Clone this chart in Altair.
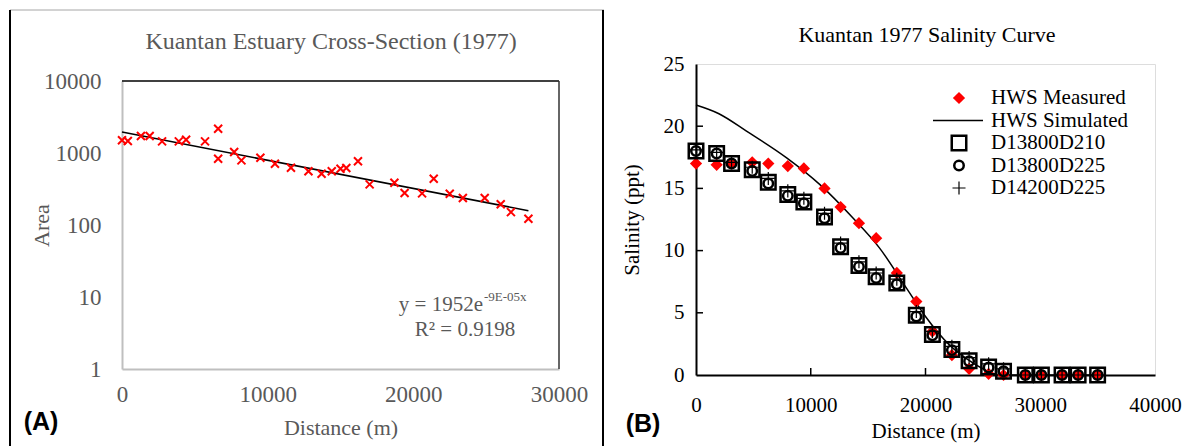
import altair as alt
import pandas as pd

# ---------------- Panel A data ----------------
area_dist = [0, 400, 1300, 1900, 2750, 3900, 4400, 5700, 6600, 6600, 7700, 8200,
             9500, 10500, 11600, 12800, 13700, 14400, 15000, 15400, 16200, 17000,
             18700, 19400, 20600, 21400, 22500, 23400, 24900, 26000, 26700, 27900]
area_vals = [1500, 1470, 1720, 1720, 1450, 1450, 1530, 1450, 2170, 830, 1030, 790,
             860, 710, 625, 557, 516, 557, 605, 619, 767, 367,
             387, 278, 275, 440, 272, 237, 237, 194, 151, 122]
trend_dist = [0, 27900]
trend_vals = [1952, 158]
a_xticks = [0, 10000, 20000, 30000]
a_yticks = [1, 10, 100, 1000, 10000]

# ---------------- Panel B data ----------------
sal_dist = [0, 1800, 3100, 4900, 6300, 8000, 9400, 11200, 12600, 14200, 15700, 17500,
            19200, 20600, 22300, 23800, 25500, 26800, 28700, 30100, 31900, 33300, 35000]
hws_measured = [17.0, 16.9, 17.0, 17.1, 17.0, 16.8, 16.6, 15.0, 13.5, 12.2, 11.0, 8.2,
                5.9, 3.5, 1.6, 0.5, 0.1, 0.0, 0.0, 0.0, 0.0, 0.0, 0.0]
d13800d210 = [18.0, 17.8, 17.0, 16.5, 15.5, 14.5, 13.9, 12.7, 10.3, 8.8, 7.9, 7.4,
              4.8, 3.25, 2.05, 1.15, 0.65, 0.3, 0.0, 0.0, 0.0, 0.0, 0.0]
d13800d225 = [18.0, 17.8, 17.0, 16.4, 15.4, 14.4, 13.8, 12.6, 10.2, 8.7, 7.8, 7.3,
              4.7, 3.2, 2.0, 1.1, 0.6, 0.3, 0.0, 0.0, 0.0, 0.0, 0.0]
d14200d225 = [18.1, 17.9, 17.1, 16.7, 15.8, 14.8, 14.2, 13.0, 10.6, 9.1, 8.2, 7.7,
              5.1, 3.5, 2.3, 1.4, 0.9, 0.5, 0.0, 0.0, 0.0, 0.0, 0.0]
sim_dist = [0, 2000, 4400, 7900, 10800, 13700, 16000, 18400, 20000, 22100, 23600,
            25000, 26300, 35000]
sim_vals = [21.7, 21.0, 19.6, 17.45, 15.3, 12.6, 10.2, 6.9, 4.7, 2.4, 1.3, 0.5, 0.0, 0.0]
b_xticks = [0, 10000, 20000, 30000, 40000]
b_yticks = [0, 5, 10, 15, 20, 25]

series_names = ["HWS Measured", "D13800D210", "D13800D225", "D14200D225"]
legend_labels = ["HWS Measured", "HWS Simulated", "D13800D210", "D13800D225", "D14200D225"]

SERIF = "Liberation Serif"
SANS = "Liberation Sans"
GRAY = "#595959"

# ============ Panel A ============
# group spans page y 62..367; the plot frame itself spans y 17..305 inside it
WA, HA, TOPA = 437, 305, 17
dfA = pd.DataFrame({"dist": area_dist, "area": area_vals})
dfT = pd.DataFrame({"dist": trend_dist, "area": trend_vals})

xA = alt.X("dist:Q", scale=alt.Scale(domain=[0, 30000], nice=False),
           axis=alt.Axis(values=a_xticks, format="d", title="Distance (m)", grid=False,
                         ticks=False, tickSize=0, domainColor="#bfbfbf", domainWidth=2,
                         labelFont=SERIF, labelFontSize=23, labelColor=GRAY, labelPadding=14,
                         titleFont=SERIF, titleFontSize=22, titleColor=GRAY, titleFontWeight="normal",
                         titleY=58, titleBaseline="middle", labelFlush=False))
yA = alt.Y("area:Q", scale=alt.Scale(type="log", domain=[1, 10000], nice=False, range=[HA, TOPA]),
           axis=alt.Axis(values=a_yticks, format="d", title="Area", grid=False,
                         ticks=False, tickSize=0, domainColor="#bfbfbf", domainWidth=2,
                         labelFont=SERIF, labelFontSize=23, labelColor=GRAY, labelPadding=21,
                         titleFont=SERIF, titleFontSize=22, titleColor=GRAY, titleFontWeight="normal",
                         titleX=-81, titleBaseline="middle", labelFlush=False))

x_shape = "M-1,-1L1,1M1,-1L-1,1"
ptsA = alt.Chart(dfA).mark_point(shape=x_shape, stroke="#ff0000", strokeWidth=2,
                                 size=64, filled=False, opacity=1).encode(x=xA, y=yA)
trendA = alt.Chart(dfT).mark_line(color="black", strokeWidth=1.5).encode(x=xA, y=yA)

one = pd.DataFrame({"k": [0]})
frameTop = alt.Chart(one).mark_rule(color="black", strokeWidth=1.5).encode(
    x=alt.value(0), x2=alt.value(WA), y=alt.value(TOPA))
frameRight = alt.Chart(one).mark_rule(color="#333333", strokeWidth=1.5).encode(
    x=alt.value(WA), y=alt.value(TOPA), y2=alt.value(HA))
borderTop = alt.Chart(one).mark_rule(color="#a6a6a6", strokeWidth=1).encode(
    x=alt.value(-112), x2=alt.value(482), y=alt.value(-54))
borderLeft = alt.Chart(one).mark_rule(color="black", strokeWidth=2).encode(
    x=alt.value(-112), y=alt.value(-54), y2=alt.value(384))
titleA = alt.Chart(one).mark_text(font=SERIF, fontSize=24, color=GRAY, baseline="middle",
                                  align="center").encode(
    x=alt.value(209), y=alt.value(-22), text=alt.value("Kuantan Estuary Cross-Section (1977)"))
labA = alt.Chart(one).mark_text(font=SANS, fontSize=25, fontWeight="bold", color="black",
                                baseline="middle", align="center").encode(
    x=alt.value(-81), y=alt.value(358), text=alt.value("(A)"))
eq1 = alt.Chart(one).mark_text(font=SERIF, fontSize=21, color=GRAY, baseline="middle",
                               align="right").encode(
    x=alt.value(361), y=alt.value(241), text=alt.value("y = 1952e"))
eq1s = alt.Chart(one).mark_text(font=SERIF, fontSize=13, color=GRAY, baseline="middle",
                                align="left").encode(
    x=alt.value(362), y=alt.value(233), text=alt.value("-9E-05x"))
eq2 = alt.Chart(one).mark_text(font=SERIF, fontSize=21, color=GRAY, baseline="middle",
                               align="center").encode(
    x=alt.value(343), y=alt.value(266), text=alt.value("R² = 0.9198"))

panelA = alt.layer(trendA, ptsA, frameTop, frameRight, borderTop, borderLeft,
                   titleA, labA, eq1, eq1s, eq2).properties(
    width=WA, height=HA, view=alt.ViewBackground(stroke="transparent"))

# ============ Panel B ============
WB, HB = 459, 311
rows = []
for name, vals in zip(series_names, [hws_measured, d13800d210, d13800d225, d14200d225]):
    for d, v in zip(sal_dist, vals):
        rows.append({"dist": d, "sal": v, "series": name})
dfB = pd.DataFrame(rows)
dfS = pd.DataFrame({"dist": sim_dist, "sal": sim_vals})

xB = alt.X("dist:Q", scale=alt.Scale(domain=[0, 40000], nice=False),
           axis=alt.Axis(values=b_xticks, format="d", title="Distance (m)", grid=False,
                         ticks=False, tickSize=0, domainColor="black", domainWidth=2,
                         labelFont=SERIF, labelFontSize=21, labelColor="black", labelPadding=19,
                         titleFont=SERIF, titleFontSize=21, titleColor="black", titleFontWeight="normal",
                         titleY=56, titleBaseline="middle", labelFlush=False))
yB = alt.Y("sal:Q", scale=alt.Scale(domain=[0, 25], nice=False),
           axis=alt.Axis(values=b_yticks, format="d", title="Salinity (ppt)", grid=False,
                         ticks=False, tickSize=0, domainColor="black", domainWidth=2,
                         labelFont=SERIF, labelFontSize=21, labelColor="black", labelPadding=12,
                         titleFont=SERIF, titleFontSize=21, titleColor="black", titleFontWeight="normal",
                         titleX=-64, titleBaseline="middle", labelFlush=False))

plus_shape = "M-1,0H1M0,-1V1"
shape_s = alt.Scale(domain=series_names, range=["diamond", "square", "circle", plus_shape])
fill_s = alt.Scale(domain=series_names, range=["#ff0000", "transparent", "transparent", "transparent"])
stroke_s = alt.Scale(domain=series_names, range=["transparent", "black", "black", "black"])
sw_s = alt.Scale(type="ordinal", domain=series_names, range=[0, 2.5, 2.5, 1.2])
size_s = alt.Scale(type="ordinal", domain=series_names, range=[150, 210, 90, 170])


def sym_enc(**kw):
    return dict(
        shape=alt.Shape("series:N", scale=shape_s, legend=None),
        fill=alt.Fill("series:N", scale=fill_s, legend=None),
        stroke=alt.Stroke("series:N", scale=stroke_s, legend=None),
        strokeWidth=alt.StrokeWidth("series:N", scale=sw_s, legend=None),
        size=alt.Size("series:N", scale=size_s, legend=None),
        **kw)


ptsB = alt.Chart(dfB).mark_point(opacity=1).encode(**sym_enc(x=xB, y=yB))
simB = alt.Chart(dfS).mark_line(color="black", strokeWidth=1.5, interpolate="monotone").encode(x=xB, y=yB)

xt = pd.DataFrame({"dist": b_xticks[1:-1]})
yt = pd.DataFrame({"sal": b_yticks[1:-1]})
xticksB = alt.Chart(xt).mark_rule(color="black", strokeWidth=1.5).encode(
    x=xB, y=alt.value(HB), y2=alt.value(HB - 7))
yticksB = alt.Chart(yt).mark_rule(color="black", strokeWidth=1.5).encode(
    y=yB, x=alt.value(0), x2=alt.value(7))

divider = alt.Chart(one).mark_rule(color="black", strokeWidth=2).encode(
    x=alt.value(-93), y=alt.value(-54), y2=alt.value(384))
titleB = alt.Chart(one).mark_text(font=SERIF, fontSize=22, color="black", baseline="middle",
                                  align="center").encode(
    x=alt.value(231), y=alt.value(-29), text=alt.value("Kuantan 1977 Salinity Curve"))
labB = alt.Chart(one).mark_text(font=SANS, fontSize=25, fontWeight="bold", color="black",
                                baseline="middle", align="center").encode(
    x=alt.value(-53), y=alt.value(360), text=alt.value("(B)"))

# legend (manual)
leg_layers = []
LX_SYM, LX_TXT, LY0, LDY = 263, 295, 34, 22.5
for i, lab in enumerate(legend_labels):
    ly = LY0 + LDY * i
    d = pd.DataFrame({"series": [lab], "label": [lab]})
    leg_layers.append(alt.Chart(d).mark_text(font=SERIF, fontSize=21, color="black",
                                             align="left", baseline="middle").encode(
        x=alt.value(LX_TXT), y=alt.value(ly), text="label:N"))
    if lab in series_names:
        leg_layers.append(alt.Chart(d).mark_point(opacity=1).encode(
            **sym_enc(x=alt.value(LX_SYM), y=alt.value(ly))))
    else:
        leg_layers.append(alt.Chart(d).mark_rule(color="black", strokeWidth=1.5).encode(
            x=alt.value(237), x2=alt.value(287), y=alt.value(ly)))

panelB = alt.layer(simB, ptsB, xticksB, yticksB, divider, titleB, labB, *leg_layers).properties(
    width=WB, height=HB)

chart = alt.hconcat(panelA, panelB, spacing=-4).properties(padding=0).configure_view(
    stroke="black", strokeWidth=2).configure(background="white")

chart.save("out.html", embed_options={"renderer": "svg", "actions": False})
